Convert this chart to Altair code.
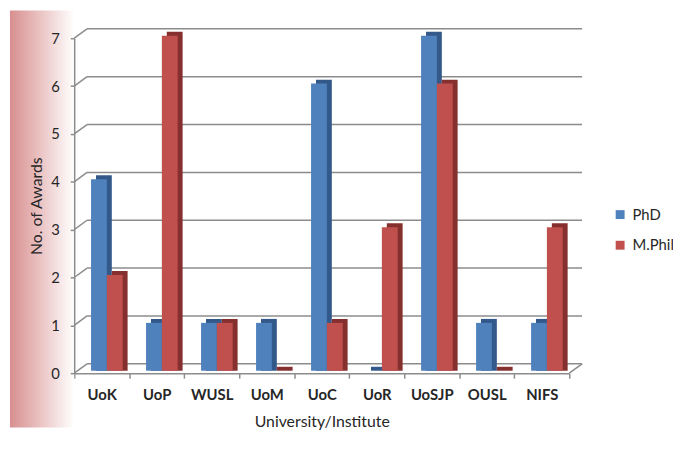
import altair as alt
import pandas as pd

categories = ["UoK", "UoP", "WUSL", "UoM", "UoC", "UoR", "UoSJP", "OUSL", "NIFS"]
phd = [4, 1, 1, 1, 6, 0, 7, 1, 1]
mphil = [2, 7, 1, 0, 1, 3, 6, 0, 3]
series = ["PhD", "M.Phil"]
y_ticks = [0, 1, 2, 3, 4, 5, 6, 7]

rows = []
for c, a, b in zip(categories, phd, mphil):
    rows.append({"cat": c, "series": "PhD", "value": a})
    rows.append({"cat": c, "series": "M.Phil", "value": b})
bars_df = pd.DataFrame(rows)
grid_df = pd.DataFrame({"v": y_ticks})
floor_df = pd.DataFrame({"v": [0]})

BLUE, RED = "#4f81bd", "#c0504d"
BLUE_D, RED_D = "#32598a", "#85302e"
GRAY = "#8c8c8c"
TXT = "#262626"
FONT = "Lato"

W, H = 501, 339
DX, DY = 13, -9.5
SIDE = 5

yscale = alt.Scale(domain=[0, 7], nice=False, zero=True)
off_scale = alt.Scale(domain=series, paddingInner=0, paddingOuter=0.74, align=0.72)
y_axis = alt.Axis(title="No. of Awards", values=y_ticks, grid=False, tickSize=4,
                  tickColor=GRAY, tickWidth=1.5, domainColor=GRAY, domainWidth=1.5,
                  labelFont=FONT, labelFontSize=15, labelColor=TXT, labelPadding=11,
                  titleFont=FONT, titleFontSize=16, titleFontWeight="normal",
                  titleColor=TXT, titlePadding=6, zindex=1)

band = alt.Chart(alt.Data(values=[{"a": 1}])).mark_rect(
    color=alt.LinearGradient(
        gradient="linear", x1=0, y1=0, x2=1, y2=0,
        stops=[alt.GradientStop(color="#d88e8e", offset=0),
               alt.GradientStop(color="#ffffff", offset=1)],
    )
).encode(x=alt.value(-65), x2=alt.value(0), y=alt.value(-28), y2=alt.value(394))

grid = alt.Chart(grid_df).mark_rule(color=GRAY, strokeWidth=1.5, yOffset=DY).encode(
    y=alt.Y("v:Q", scale=yscale, axis=y_axis),
    x=alt.value(DX), x2=alt.value(W + DX),
)
diag = alt.Chart(grid_df).mark_rule(color=GRAY, strokeWidth=1.5, y2Offset=DY).encode(
    y=alt.Y("v:Q", scale=yscale, axis=y_axis),
    y2="v:Q",
    x=alt.value(0), x2=alt.value(DX),
)
floor_right = alt.Chart(floor_df).mark_rule(color=GRAY, strokeWidth=1.5, y2Offset=DY).encode(
    y=alt.Y("v:Q", scale=yscale, axis=y_axis),
    y2="v:Q",
    x=alt.value(W), x2=alt.value(W + DX),
)

dark = alt.Chart(bars_df).mark_bar(yOffset=-6.5, y2Offset=-2.5).encode(
    x=alt.X("cat:N", sort=categories,
            scale=alt.Scale(domain=categories, paddingInner=0, paddingOuter=0,
                            range=[SIDE, W + SIDE]),
            axis=None),
    xOffset=alt.XOffset("series:N", sort=series, scale=off_scale),
    y=alt.Y("value:Q", scale=yscale, axis=y_axis, stack=None),
    y2=alt.datum(0),
    color=alt.condition(alt.datum.series == "PhD", alt.value(BLUE_D), alt.value(RED_D)),
)

front = alt.Chart(bars_df).mark_bar(yOffset=-2.5, y2Offset=-2.5).encode(
    x=alt.X("cat:N", sort=categories,
            scale=alt.Scale(domain=categories, paddingInner=0, paddingOuter=0),
            axis=alt.Axis(title="University/Institute", labelAngle=0, labelFont=FONT,
                          labelFontWeight="bold", labelFontSize=15, labelColor=TXT,
                          labelPadding=10, tickBand="extent", tickSize=5, tickColor=GRAY,
                          tickWidth=1.5, domainColor=GRAY, domainWidth=1.5,
                          titleFont=FONT, titleFontSize=16, titleFontWeight="normal",
                          titleColor=TXT, titlePadding=11)),
    xOffset=alt.XOffset("series:N", sort=series, scale=off_scale),
    y=alt.Y("value:Q", scale=yscale, axis=y_axis),
    color=alt.Color("series:N", sort=series,
                    scale=alt.Scale(domain=series, range=[BLUE, RED]),
                    legend=alt.Legend(title=None, orient="none", legendX=545, legendY=171,
                                      symbolType="square", symbolSize=81, symbolStrokeWidth=0,
                                      labelFont=FONT, labelFontSize=15, labelColor=TXT,
                                      labelOffset=5, rowPadding=15, padding=0)),
)

chart = alt.layer(band, grid, diag, floor_right, dark, front).resolve_scale(
    x="independent"
).properties(
    width=W, height=H,
    autosize=alt.AutoSizeParams(type="none"),
    padding={"left": 67, "top": 28, "right": 105, "bottom": 63},
).configure_view(stroke=None)

chart.save("out.html", embed_options={"renderer": "svg", "actions": False})
